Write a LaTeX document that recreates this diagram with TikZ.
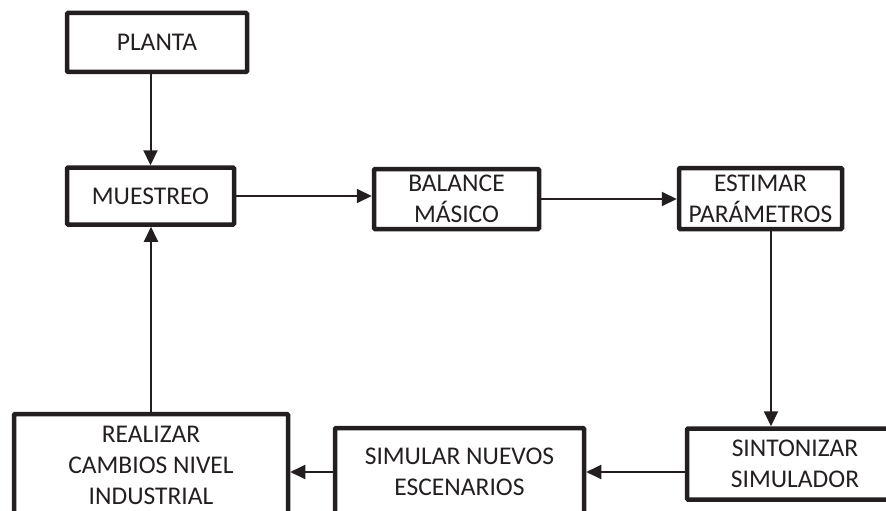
\documentclass[tikz,border=0pt]{standalone}
\usepackage{fontspec}
\setmainfont{Carlito}
\usetikzlibrary{arrows.meta}
\definecolor{ink}{HTML}{231F20}
\tikzset{
  box/.style={draw=ink, line width=4.5pt, rounded corners=1pt, align=center, text=ink,
    font=\fontsize{25.5}{31}\selectfont, inner sep=0pt},
  arr/.style={draw=ink, line width=2pt, -{Triangle[length=15pt,width=14pt]}}
}
\begin{document}
\begin{tikzpicture}[x=1pt,y=-1pt]
\path[use as bounding box] (0,0) rectangle (886,511);
\clip (0,0) rectangle (886,511);
\node[box, minimum width=180pt, minimum height=59pt] (planta) at (157,42.5) {PLANTA};
\node[box, minimum width=167pt, minimum height=57pt] (muestreo) at (150.5,196) {MUESTREO};
\node[box, minimum width=165pt, minimum height=60pt] (balance) at (456.5,199) {BALANCE\\MÁSICO};
\node[box, minimum width=163pt, minimum height=61pt] (estimar) at (760.5,198.5) {ESTIMAR\\PARÁMETROS};
\node[box, minimum width=216pt, minimum height=71pt] (sint) at (795,464) {SINTONIZAR\\SIMULADOR};
\node[box, minimum width=249pt, minimum height=88pt] (simular) at (459.5,472) {SIMULAR NUEVOS\\ESCENARIOS};
\node[box, minimum width=274pt, minimum height=102pt] (realizar) at (151,465) {REALIZAR\\CAMBIOS NIVEL\\INDUSTRIAL};
\draw[arr] (planta.south -| muestreo.north) -- (muestreo.north);
\draw[arr] (realizar.north) -- (muestreo.south -| realizar.north);
\draw[arr] (muestreo.east) -- (muestreo.east -| balance.west);
\draw[arr] (balance.east) -- (balance.east -| estimar.west);
\draw[arr] ([xshift=10.5pt]estimar.south) -- ([xshift=10.5pt]estimar.south |- sint.north);
\draw[arr] (sint.west |- simular.east) -- (simular.east);
\draw[arr] (simular.west) -- (realizar.east |- simular.west);
\end{tikzpicture}
\end{document}
